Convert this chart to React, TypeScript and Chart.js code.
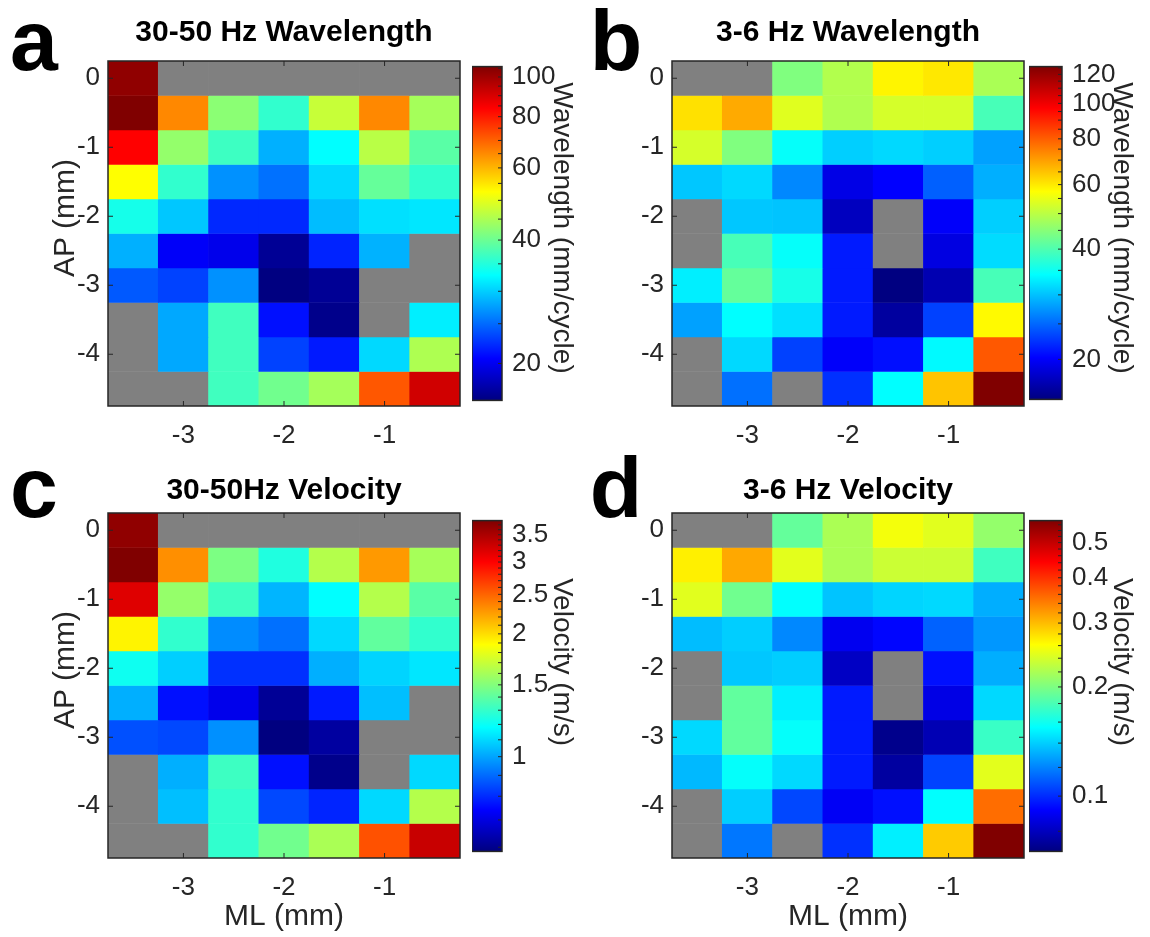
import React, { useEffect, useRef } from "react";
import { Chart, registerables } from "chart.js";

Chart.register(...registerables);

const FONT = "'Liberation Sans', Arial, Helvetica, sans-serif";
const INK = "#262626";
const NAN_GRAY = "#808080";

// ---- grid coordinates (mm) ----
const ML_POSITIONS = [-3.5, -3, -2.5, -2, -1.5, -1, -0.5];
const AP_POSITIONS = [0, -0.5, -1, -1.5, -2, -2.5, -3, -3.5, -4, -4.5];
const ML_TICKS = [-3, -2, -1];
const AP_TICKS = [0, -1, -2, -3, -4];

// ---- data (rows = AP positions, cols = ML positions; null = no data) ----
const WAVELENGTH_30_50 = [
  [102.9, null, null, null, null, null, null],
  [106, 65.3, 42.4, 35.9, 47.3, 65.3, 44.5],
  [83.9, 43.1, 36.7, 28.4, 32.8, 46.1, 38.7],
  [52.5, 35.9, 26.8, 25.3, 30.6, 39.5, 35.9],
  [34.1, 29.6, 22.1, 22.1, 29.1, 31.0, 31.4],
  [28.4, 20.3, 19.8, 16.9, 21.9, 28.5, null],
  [24.2, 23.2, 26.8, 16.3, 16.9, null, null],
  [null, 28.0, 36.9, 21.1, 16.6, null, 31.9],
  [null, 28.0, 36.9, 23.2, 21.5, 30.6, 45.2],
  [null, null, 36.9, 40.4, 44.5, 71.4, 91.4],
];

const WAVELENGTH_3_6 = [
  [null, null, 44.3, 49.1, 58.7, 60.3, 48.3],
  [61.2, 68.4, 54.0, 48.9, 52.7, 52.7, 39.4],
  [52.7, 44.3, 34.4, 30.9, 31.5, 30.9, 28.1],
  [30.4, 31.5, 26.7, 19.2, 20.2, 24.6, 28.9],
  [null, 30.4, 30.2, 17.7, null, 20.0, 30.9],
  [null, 39.4, 34.4, 21.3, null, 19.0, 31.7],
  [33.0, 41.8, 35.7, 21.3, 15.6, 17.2, 39.4],
  [28.1, 34.1, 32.0, 21.3, 16.6, 23.1, 58.1],
  [null, 31.5, 23.1, 20.0, 20.8, 33.7, 81.0],
  [null, 25.4, null, 22.3, 34.1, 64.9, 126],
];

const VELOCITY_30_50 = [
  [3.68, null, null, null, null, null, null],
  [3.79, 2.31, 1.48, 1.25, 1.64, 2.27, 1.60],
  [3.18, 1.55, 1.32, 1.03, 1.18, 1.64, 1.39],
  [1.92, 1.29, 0.956, 0.909, 1.10, 1.41, 1.29],
  [1.21, 1.08, 0.808, 0.808, 1.02, 1.09, 1.13],
  [1.02, 0.761, 0.713, 0.611, 0.775, 1.05, null],
  [0.856, 0.845, 0.963, 0.586, 0.622, null, null],
  [null, 1.02, 1.32, 0.761, 0.599, null, 1.10],
  [null, 1.05, 1.29, 0.845, 0.790, 1.10, 1.64],
  [null, null, 1.29, 1.45, 1.61, 2.59, 3.32],
];

const VELOCITY_3_6 = [
  [null, null, 0.190, 0.220, 0.256, 0.246, 0.210],
  [0.270, 0.313, 0.247, 0.220, 0.235, 0.235, 0.176],
  [0.246, 0.195, 0.155, 0.137, 0.142, 0.143, 0.131],
  [0.135, 0.140, 0.121, 0.0887, 0.0925, 0.112, 0.125],
  [null, 0.138, 0.140, 0.0811, null, 0.0945, 0.131],
  [null, 0.189, 0.150, 0.0965, null, 0.0868, 0.143],
  [0.143, 0.189, 0.156, 0.0965, 0.0722, 0.0784, 0.174],
  [0.134, 0.156, 0.143, 0.0965, 0.0753, 0.105, 0.247],
  [null, 0.140, 0.106, 0.0896, 0.0945, 0.155, 0.353],
  [null, 0.117, null, 0.101, 0.150, 0.291, 0.575],
];

// ---- colour limits (log scale) and colorbar ticks ----
const CLIM_WL_30_50 = [16.25, 106];
const CLIM_WL_3_6 = [15.55, 126];
const CLIM_V_30_50 = [0.586, 3.79];
const CLIM_V_3_6 = [0.0704, 0.575];

const CB_TICKS_WL_30_50 = [20, 40, 60, 80, 100];
const CB_TICKS_WL_3_6 = [20, 40, 60, 80, 100, 120];
const CB_TICKS_V_30_50 = [1, 1.5, 2, 2.5, 3, 3.5];
const CB_TICKS_V_3_6 = [0.1, 0.2, 0.3, 0.4, 0.5];

const CB_MINOR_WL_30_50 = [20, 25, 30, 35, 40, 45, 50, 55, 60, 65, 70, 75, 80, 85, 90, 95, 100, 105];
const CB_MINOR_WL_3_6 = [20, 25, 30, 35, 40, 45, 50, 55, 60, 65, 70, 75, 80, 85, 90, 95, 100, 105, 110, 115, 120, 125];
const CB_MINOR_V_30_50 = [0.6, 0.7, 0.8, 0.9, 1, 1.1, 1.2, 1.3, 1.4, 1.5, 1.6, 1.7, 1.8, 1.9, 2, 2.1, 2.2, 2.3, 2.4, 2.5, 2.6, 2.7, 2.8, 2.9, 3, 3.1, 3.2, 3.3, 3.4, 3.5, 3.6, 3.7];
const CB_MINOR_V_3_6 = [0.08, 0.1, 0.12, 0.14, 0.16, 0.18, 0.2, 0.22, 0.24, 0.26, 0.28, 0.3, 0.32, 0.34, 0.36, 0.38, 0.4, 0.42, 0.44, 0.46, 0.48, 0.5, 0.52, 0.54, 0.56];

// ---- helpers ----
function clamp01(x: number) {
  return Math.max(0, Math.min(1, x));
}
function jetRGB(t: number) {
  const r = clamp01(1.5 - Math.abs(4 * t - 3));
  const g = clamp01(1.5 - Math.abs(4 * t - 2));
  const b = clamp01(1.5 - Math.abs(4 * t - 1));
  return `rgb(${Math.round(r * 255)},${Math.round(g * 255)},${Math.round(b * 255)})`;
}
function logNorm(v: number, vmin: number, vmax: number) {
  return clamp01((Math.log(v) - Math.log(vmin)) / (Math.log(vmax) - Math.log(vmin)));
}

function framePlugin(opts: { xTicks?: number[]; yTicks: number[]; yBoth: boolean }) {
  return {
    id: "frame",
    afterDraw(chart: any) {
      const { ctx, chartArea: a, scales } = chart;
      const len = 5;
      ctx.save();
      ctx.strokeStyle = INK;
      ctx.lineWidth = 1;
      ctx.beginPath();
      for (const v of opts.yTicks) {
        const py = scales.y.getPixelForValue(v);
        if (opts.yBoth) {
          ctx.moveTo(a.left, py);
          ctx.lineTo(a.left + len, py);
        }
        ctx.moveTo(a.right, py);
        ctx.lineTo(a.right - (opts.yBoth ? len : 4), py);
      }
      if (opts.xTicks) {
        for (const v of opts.xTicks) {
          const px = scales.x.getPixelForValue(ML_POSITIONS.indexOf(v));
          ctx.moveTo(px, a.bottom);
          ctx.lineTo(px, a.bottom - len);
          ctx.moveTo(px, a.top);
          ctx.lineTo(px, a.top + len);
        }
      }
      ctx.stroke();
      ctx.lineWidth = 1.5;
      ctx.strokeRect(a.left, a.top, a.right - a.left, a.bottom - a.top);
      ctx.restore();
    },
  };
}

const AP_HALF = (AP_POSITIONS[0] - AP_POSITIONS[1]) / 2;

function heatmapConfig(values: (number | null)[][], clim: number[], showXTitle: boolean): any {
  const [vmin, vmax] = clim;
  const datasets = AP_POSITIONS.map((ap, i) => ({
    data: ML_POSITIONS.map(() => [ap - AP_HALF, ap + AP_HALF]),
    backgroundColor: values[i].map((v) => (v == null ? NAN_GRAY : jetRGB(logNorm(v, vmin, vmax)))),
    borderWidth: 0,
    categoryPercentage: 1,
    barPercentage: 1,
    grouped: false,
  }));
  return {
    type: "bar",
    data: { labels: ML_POSITIONS.map(String), datasets },
    options: {
      animation: false,
      responsive: false,
      devicePixelRatio: 1,
      events: [],
      layout: { padding: { left: 0, right: 30, top: 30, bottom: 0 } },
      plugins: { legend: { display: false }, tooltip: { enabled: false }, title: { display: false } },
      scales: {
        x: {
          type: "category",
          offset: true,
          grid: { display: false, drawTicks: false },
          border: { display: false },
          afterFit: (s: any) => {
            s.height = 80;
          },
          ticks: {
            autoSkip: false,
            maxRotation: 0,
            minRotation: 0,
            padding: 14,
            color: INK,
            font: { family: FONT, size: 26 },
            callback: (_v: any, idx: number) => {
              const x = ML_POSITIONS[idx];
              return ML_TICKS.includes(x) ? String(x) : "";
            },
          },
          title: {
            display: showXTitle,
            text: "ML (mm)",
            color: INK,
            font: { family: FONT, size: 30 },
            padding: { top: 0, bottom: 3 },
          },
        },
        y: {
          type: "linear",
          min: AP_POSITIONS[AP_POSITIONS.length - 1] - AP_HALF,
          max: AP_POSITIONS[0] + AP_HALF,
          grid: { display: false, drawTicks: false },
          border: { display: false },
          afterBuildTicks: (s: any) => {
            s.ticks = AP_TICKS.map((v) => ({ value: v }));
          },
          afterFit: (s: any) => {
            s.width = 100;
          },
          ticks: {
            padding: 8,
            color: INK,
            font: { family: FONT, size: 26 },
            callback: (v: any) => String(v),
          },
        },
      },
    },
    plugins: [framePlugin({ xTicks: ML_TICKS, yTicks: AP_TICKS, yBoth: true })],
  };
}

function colorbarConfig(clim: number[], major: number[], minor: number[]): any {
  const [vmin, vmax] = clim;
  return {
    type: "bar",
    data: {
      labels: [""],
      datasets: [
        {
          data: [[vmin, vmax]],
          borderWidth: 0,
          categoryPercentage: 1,
          barPercentage: 1,
          backgroundColor: (c: any) => {
            const a = c.chart.chartArea;
            if (!a) return "transparent";
            const g = c.chart.ctx.createLinearGradient(0, a.bottom, 0, a.top);
            [0, 0.125, 0.375, 0.625, 0.875, 1].forEach((t) => g.addColorStop(t, jetRGB(t)));
            return g;
          },
        },
      ],
    },
    options: {
      animation: false,
      responsive: false,
      devicePixelRatio: 1,
      events: [],
      layout: { padding: { left: 0, right: 0, top: 20, bottom: 20 } },
      plugins: { legend: { display: false }, tooltip: { enabled: false } },
      scales: {
        x: { display: false },
        y: {
          type: "logarithmic",
          position: "right",
          min: vmin,
          max: vmax,
          grid: { display: false, drawTicks: false },
          border: { display: false },
          afterBuildTicks: (s: any) => {
            s.ticks = major.map((v) => ({ value: v }));
          },
          afterFit: (s: any) => {
            s.width = 80;
          },
          ticks: {
            padding: 10,
            color: INK,
            font: { family: FONT, size: 26 },
            callback: (v: any) => String(v),
          },
        },
      },
    },
    plugins: [framePlugin({ yTicks: minor, yBoth: false })],
  };
}

function ChartCanvas(props: { left: number; top: number; width: number; height: number; make: () => any }) {
  const ref = useRef<HTMLCanvasElement>(null);
  useEffect(() => {
    const chart = new Chart(ref.current as HTMLCanvasElement, props.make());
    return () => chart.destroy();
  }, []);
  return (
    <canvas
      ref={ref}
      width={props.width}
      height={props.height}
      style={{ position: "absolute", left: props.left, top: props.top, width: props.width, height: props.height }}
    />
  );
}

function Txt(props: {
  text: string;
  cx: number;
  top: number;
  size: number;
  bold?: boolean;
  rotate?: number;
  color?: string;
  width?: number;
}) {
  const w = props.width ?? 400;
  return (
    <div
      style={{
        position: "absolute",
        left: props.cx - w / 2,
        top: props.top,
        width: w,
        textAlign: "center",
        fontFamily: FONT,
        fontSize: props.size,
        lineHeight: `${props.size}px`,
        fontWeight: props.bold ? 700 : 400,
        color: props.color ?? INK,
        whiteSpace: "nowrap",
        transform: props.rotate ? `rotate(${props.rotate}deg)` : undefined,
        transformOrigin: "50% 50%",
      }}
    >
      {props.text}
    </div>
  );
}

// panel layout (plot-area corners, text anchors)
const PANELS = [
  { key: "a", x0: 108, y0: 61, values: WAVELENGTH_30_50, clim: CLIM_WL_30_50, xTitle: false, title: "30-50 Hz Wavelength", titleTop: 15.6, letterX: 34, letterTop: -3.5, cb: { x: 472, y: 61, w: 30, h: 345 }, major: CB_TICKS_WL_30_50, minor: CB_MINOR_WL_30_50, cbLabel: "Wavelength (mm/cycle)", cbLabelY: 228, apTitle: true },
  { key: "b", x0: 672, y0: 61, values: WAVELENGTH_3_6, clim: CLIM_WL_3_6, xTitle: false, title: "3-6 Hz Wavelength", titleTop: 15.6, letterX: 616, letterTop: -3.5, cb: { x: 1029, y: 61, w: 33, h: 344 }, major: CB_TICKS_WL_3_6, minor: CB_MINOR_WL_3_6, cbLabel: "Wavelength (mm/cycle)", cbLabelY: 228, apTitle: false },
  { key: "c", x0: 108, y0: 513, values: VELOCITY_30_50, clim: CLIM_V_30_50, xTitle: true, title: "30-50Hz Velocity", titleTop: 473.6, letterX: 34, letterTop: 444, cb: { x: 472, y: 515, w: 30, h: 342 }, major: CB_TICKS_V_30_50, minor: CB_MINOR_V_30_50, cbLabel: "Velocity (m/s)", cbLabelY: 662, apTitle: true },
  { key: "d", x0: 672, y0: 513, values: VELOCITY_3_6, clim: CLIM_V_3_6, xTitle: true, title: "3-6 Hz Velocity", titleTop: 473.6, letterX: 616, letterTop: 444, cb: { x: 1029, y: 515, w: 33, h: 342 }, major: CB_TICKS_V_3_6, minor: CB_MINOR_V_3_6, cbLabel: "Velocity (m/s)", cbLabelY: 662, apTitle: false },
];
const PLOT_W = 352;
const PLOT_H = 345;

export default function App() {
  return (
    <div
      style={{
        position: "absolute",
        left: 0,
        top: 0,
        width: 1150,
        height: 937,
        background: "#ffffff",
        overflow: "hidden",
      }}
    >
      {PANELS.map((p) => (
        <React.Fragment key={p.key}>
          <ChartCanvas
            left={p.x0 - 100}
            top={p.y0 - 30}
            width={100 + PLOT_W + 30}
            height={30 + PLOT_H + 80}
            make={() => heatmapConfig(p.values, p.clim, p.xTitle)}
          />
          <ChartCanvas
            left={p.cb.x}
            top={p.cb.y - 20}
            width={p.cb.w + 80}
            height={p.cb.h + 40}
            make={() => colorbarConfig(p.clim, p.major, p.minor)}
          />
          <Txt text={p.title} cx={p.x0 + PLOT_W / 2} top={p.titleTop} size={30} bold color="#000" />
          <Txt text={p.key} cx={p.letterX} top={p.letterTop} size={86} bold color="#000" width={100} />
          <Txt text={p.cbLabel} cx={p.cb.x + p.cb.w + 61} top={p.cbLabelY - 14} size={28} rotate={90} />
          {p.apTitle && <Txt text="AP (mm)" cx={64} top={p.y0 + 156.5 - 15} size={30} rotate={-90} />}
        </React.Fragment>
      ))}
    </div>
  );
}
